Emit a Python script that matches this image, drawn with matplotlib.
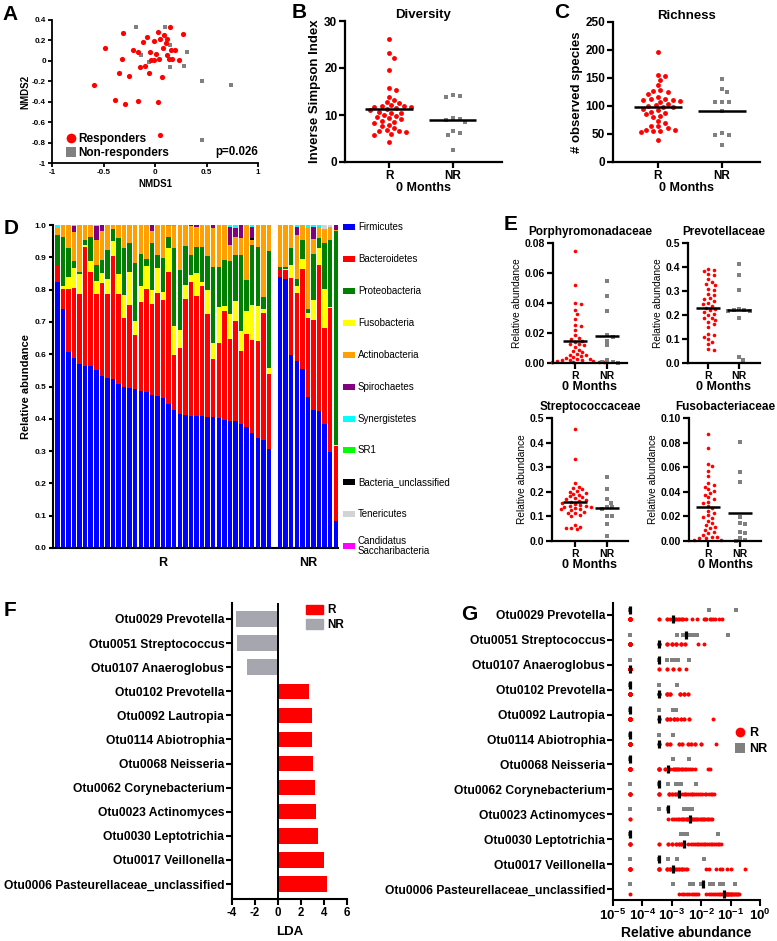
import numpy as np
import matplotlib
matplotlib.use("Agg")
import matplotlib.pyplot as plt
from matplotlib.lines import Line2D
from matplotlib.patches import Patch, Rectangle

plt.rcParams['font.family'] = ['Liberation Sans', 'DejaVu Sans']
plt.rcParams['font.weight'] = 'bold'
plt.rcParams['axes.labelweight'] = 'bold'
plt.rcParams['axes.titleweight'] = 'bold'
plt.rcParams['mathtext.fontset'] = 'custom'
plt.rcParams['mathtext.rm'] = 'Liberation Sans:bold'
plt.rcParams['mathtext.bf'] = 'Liberation Sans:bold'
plt.rcParams['mathtext.it'] = 'Liberation Sans:bold'
plt.rcParams['axes.unicode_minus'] = False

RED = '#FF0000'
GREY = '#808080'
LGREY = '#A6A6AE'

# ---------------- DATA ----------------
# A: NMDS
nmds_R_x = [0.145, -0.306, 0.268, 0.025, -0.076, 0.088, 0.05, 0.12, -0.006, -0.117, 0.104, -0.486, -0.218,
            -0.164, -0.047, 0.073, 0.151, 0.199, 0.009, 0.12, -0.322, -0.013, 0.041, 0.167, 0.23, -0.101,
            -0.148, -0.353, -0.054, -0.252, 0.066, -0.59, -0.385, -0.29, -0.164, 0.025, 0.047, -0.038, 0.136]
nmds_R_y = [0.334, 0.269, 0.259, 0.279, 0.236, 0.252, 0.21, 0.21, 0.197, 0.187, 0.17, 0.128, 0.111,
            0.082, 0.089, 0.128, 0.111, 0.105, 0.072, 0.056, 0.023, 0.013, 0.023, 0.023, 0.007, -0.046,
            -0.059, -0.118, -0.118, -0.144, -0.157, -0.236, -0.38, -0.423, -0.397, -0.4, -0.725, 0.007, 0.023]
nmds_NR_x = [-0.189, 0.095, 0.142, -0.132, -0.063, 0.306, 0.142, 0.281, 0.461, 0.738, 0.461]
nmds_NR_y = [0.334, 0.334, 0.154, 0.062, -0.01, 0.082, -0.059, -0.049, -0.197, -0.233, -0.774]

# B: inverse Simpson
div_R = [26.1, 23.1, 22.2, 19.5, 15.7, 15.3, 13.9, 13.2, 12.8, 12.5, 12.1, 11.9, 11.8, 11.6, 11.4, 11.2, 11.1,
         10.7, 10.5, 10.4, 10.0, 9.8, 9.5, 9.3, 9.1, 8.8, 8.6, 8.3, 7.9, 7.6, 7.2, 6.8, 6.6, 6.5, 6.3, 6.0,
         5.8, 4.2, 11.9]
div_NR = [14.3, 14.0, 13.9, 9.3, 9.2, 9.0, 8.6, 6.5, 6.1, 5.8, 2.6]

# C: observed species
rich_R = [197, 155, 153, 146, 137, 128, 127, 125, 121, 116, 113, 112, 111, 110, 109, 107, 104, 101, 100, 99,
          98, 95, 92, 90, 88, 85, 83, 80, 74, 64, 61, 58, 57, 55, 55, 64, 70, 53, 40]
rich_NR = [149, 131, 125, 107, 107, 107, 91, 51, 48, 49, 30]

# D: phylum relative abundance per sample (39 R + 11 NR)
phyla = ['Firmicutes', 'Bacteroidetes', 'Proteobacteria', 'Fusobacteria', 'Actinobacteria', 'Spirochaetes',
         'Synergistetes', 'SR1', 'Bacteria_unclassified', 'Tenericutes', 'Candidatus\nSaccharibacteria']
phyla_colors = ['#0000FF', '#FF0000', '#007F00', '#FFFF00', '#FFA000', '#800080', '#00FFFF', '#00FF00',
                '#000000', '#D3D3D3', '#FF00FF']
firm_R = [.823, .740, .607, .587, .569, .565, .562, .551, .532, .525, .523, .509, .500, .494, .493, .485, .484,
          .475, .470, .463, .445, .427, .415, .412, .410, .409, .408, .406, .405, .404, .395, .393, .392, .383,
          .375, .356, .342, .335, .307]
bact_R = [.052, .062, .195, .219, .217, .368, .294, .235, .288, .261, .381, .277, .212, .259, .167, .276, .318,
          .280, .320, .306, .409, .170, .205, .359, .415, .370, .402, .319, .179, .230, .340, .254, .310, .226,
          .286, .289, .300, .393, .231]
fuso_R = [.000, .008, .038, .060, .062, .005, .031, .041, .031, .046, .045, .062, .070, .103, .042, .051, .072,
          .045, .076, .025, .074, .090, .056, .044, .021, .072, .015, .075, .051, .112, .013, .078, .062, .062,
          .072, .108, .108, .013, .020]
prot_R = [.093, .154, .090, .023, .008, .016, .077, .050, .041, .091, .039, .113, .146, .087, .180, .098, .020,
          .143, .041, .103, .036, .241, .185, .120, .061, .082, .108, .105, .236, .125, .143, .165, .143, .236,
          .097, .185, .183, .035, .360]
acti_R = [.024, .036, .070, .088, .144, .046, .036, .077, .090, .077, .012, .039, .072, .057, .118, .090, .106,
          .037, .091, .103, .032, .068, .139, .065, .089, .062, .067, .093, .119, .129, .109, .048, .057, .052,
          .170, .016, .067, .224, .082]
spiro_R = [0, 0, 0, .020, 0, 0, 0, .042, .018, 0, 0, 0, 0, 0, 0, 0, 0, .020, 0, 0, 0, 0, 0, 0, .004, .005, 0,
           0, .010, 0, 0, .057, .026, .041, 0, .036, 0, 0, 0]
syn_R = [.008, 0, 0, .003, 0, 0, 0, .004, 0, 0, 0, 0, 0, 0, 0, 0, 0, 0, .002, 0, 0, 0, 0, 0, 0, 0, 0, .002, 0,
         0, 0, .005, .010, 0, 0, .005, 0, 0, 0]
sr1_R = [0] * 20 + [.004, .004] + [0] * 17
bunc_R = [0] * 35 + [.005] + [0] * 3
ten_R = [0] * 39
cand_R = [0] * 39

firm_NR = [.839, .832, .596, .578, .555, .467, .426, .423, .385, .297, .083]
bact_NR = [.026, .028, .240, .212, .310, .244, .279, .452, .296, .446, .233]
fuso_NR = [0, .003, .039, .021, .031, .016, .062, .054, .122, .003, .004]
prot_NR = [.005, .007, .054, .023, .057, .013, .144, .031, .142, .209, .660]
acti_NR = [.130, .130, .071, .136, .047, .250, .047, .034, .044, .040, .006]
spiro_NR = [0, 0, 0, .024, 0, 0, .036, 0, 0, 0, .014]
syn_NR = [0, 0, 0, .006, 0, .010, .006, .006, 0, 0, 0]
sr1_NR = [0] * 11
bunc_NR = [0] * 11
ten_NR = [0, 0, 0, 0, 0, 0, 0, 0, .011, .005, 0]
cand_NR = [0] * 11

# E: families
porph_R = [.0744, .0522, .0402, .0396, .0356, .0329, .0296, .0251, .0244, .0218, .0184, .0162, .0140, .0118,
           .0107, .0089, .0080, .0073, .0062, .0056, .0051, .0044, .0040, .0036, .0029, .0024, .0022, .0018,
           .0018, .0013, .0013, .0009, .0009, .0007, .0007, .0125, .0130, .0150, .0170]
porph_NR = [.0547, .0447, .0347, .0184, .0173, .0147, .0118, .0018, .0007, .0007, .0002]
prev_R = [.393, .389, .383, .372, .365, .351, .3375, .330, .324, .310, .303, .289, .282, .272, .265, .257, .250,
          .244, .236, .230, .226, .219, .2125, .206, .199, .189, .180, .171, .187, .163, .149, .122, .115, .108,
          .099, .0875, .078, .060, .053]
prev_NR = [.414, .365, .303, .226, .222, .219, .217, .217, .1875, .025, .014]
strep_R = [.457, .333, .235, .221, .215, .210, .205, .201, .197, .192, .1875, .183, .178, .174, .170, .164, .160,
           .156, .151, .147, .143, .137, .133, .129, .124, .118, .113, .106, .139, .142, .166, .129, .112, .065,
           .058, .052, .052, .048, .102]
strep_NR = [.262, .211, .170, .156, .137, .137, .129, .102, .102, .069, .020]
fusof_R = [.0872, .0753, .0625, .0606, .0573, .0530, .0470, .0457, .0443, .0421, .0410, .0389, .0375, .0356,
           .0340, .0321, .0307, .0285, .0266, .0247, .0231, .0212, .0198, .0185, .0166, .0144, .0130, .0117,
           .0103, .0090, .0076, .0063, .0049, .0035, .0022, .0008, .0008, .0023, .0033]
fusof_NR = [.0802, .0565, .0476, .0198, .0144, .0139, .0076, .0068, .0022, .0008, .0003]

# F: LDA
otus = ['Otu0029 Prevotella', 'Otu0051 Streptococcus', 'Otu0107 Anaeroglobus', 'Otu0102 Prevotella',
        'Otu0092 Lautropia', 'Otu0114 Abiotrophia', 'Otu0068 Neisseria', 'Otu0062 Corynebacterium',
        'Otu0023 Actinomyces', 'Otu0030 Leptotrichia', 'Otu0017 Veillonella',
        'Otu0006 Pasteurellaceae_unclassified']
lda = [-3.67, -3.59, -2.71, 2.68, 2.97, 2.97, 3.03, 3.18, 3.29, 3.50, 3.99, 4.29]

# G: OTU relative abundance per patient
g_R = [
    [0] * 14 + [3.8e-4, 3.8e-4, 7e-4, 7e-4, 9e-4, 1.1e-3, 1.3e-3, 1.4e-3, 1.6e-3, 1.8e-3, 2e-3, 2.2e-3, 2.5e-3,
                3e-3, 5e-3, 7e-3, .012, .013, .015, .02, .022, .025, .03, .04, .05],
    [0] * 19 + [3.8e-4] * 4 + [7e-4] * 3 + [1e-3] * 3 + [1.4e-3] * 3 + [2e-3] * 3 + [2.8e-3] * 2 + [8e-3, .012],
    [0] * 30 + [3.8e-4, 3.8e-4, 6.7e-4, 6.7e-4, 1.1e-3, 1.1e-3, 1.8e-3, 1.8e-3, 3.1e-3],
    [0] * 19 + [3.8e-4] * 5 + [7e-4] * 4 + [9e-4] * 3 + [1.9e-3] * 3 + [2.6e-3] * 3 + [3.5e-3] * 2,
    [0] * 19 + [3.8e-4] * 3 + [7e-4] * 3 + [9e-4] * 2 + [1.2e-3] * 3 + [1.5e-3] * 2 + [2e-3] * 2 + [2.7e-3] * 2
    + [3.7e-3] * 2 + [.025],
    [0] * 19 + [3.8e-4] * 3 + [7e-4] * 2 + [9e-4] * 2 + [1.8e-3] * 2 + [2.3e-3] * 2 + [3.5e-3] * 2
    + [4.5e-3] * 2 + [6e-3] * 2 + [1e-2] * 2 + [.033],
    [0] * 12 + [3.8e-4] * 5 + [6e-4] * 2 + [7.7e-4, 9e-4, 1.1e-3, 1.2e-3, 1.3e-3, 1.4e-3, 1.5e-3, 1.6e-3, 1.8e-3,
                                          2.1e-3, 2.3e-3, 2.5e-3, 2.8e-3, 3e-3, 3.5e-3, 4.2e-3, 5e-3, 6e-3,
                                          .017, .02],
    [0] * 6 + [3.8e-4] * 4 + [8e-4] * 3 + [1e-3] * 2 + [1.3e-3] * 2 + [1.5e-3] * 2
    + [1.8e-3, 2.2e-3, 2.6e-3, 2.9e-3, 3e-3, 3.5e-3, 4e-3, 4.8e-3, 5e-3, 5.5e-3, 6.5e-3, 7.5e-3, 9e-3, .011,
       .013, .015, .018, .021, .024, .027],
    [0] * 2 + [7.7e-4, 1e-3, 1.2e-3, 1.4e-3, 1.6e-3, 1.8e-3, 2e-3, 2.2e-3, 2.5e-3, 2.7e-3, 3e-3, 3.2e-3, 3.4e-3,
               3.6e-3, 3.8e-3, 4e-3, 4.2e-3, 4.3e-3, 4.6e-3, 5e-3, 5.4e-3, 5.8e-3, 6.3e-3, 6.8e-3, 7.4e-3, 8e-3,
               8.8e-3, 9.6e-3, .0105, .0115, .0125, .014, .0155, .017, .019, .021, .023],
    [0] * 5 + [3.8e-4] * 2 + [7.3e-4] * 2 + [1e-3] * 2 + [1.4e-3] * 2 + [1.7e-3] * 2 + [2e-3] * 2 + [2.4e-3] * 2
    + [2.7e-3, 3.5e-3, 4.5e-3, 5.2e-3, 6e-3, 7e-3, 8e-3, 9e-3, .0105, .012, .014, .016, .018, .021, .024, .027,
       .031, .036, .041, .047],
    [0] * 8 + [3.8e-4] * 5 + [7e-4] * 3 + [9e-4] * 3
    + [1.1e-3, 1.3e-3, 1.4e-3, 1.5e-3, 1.7e-3, 1.8e-3, 2e-3, 2.2e-3, 2.3e-3, 2.6e-3, 3e-3, 3.4e-3, .015, .018,
       .032, .043, .05, .073, .1, .31],
    [0, 1.8e-3, 2.2e-3, 2.7e-3, 3.2e-3, 3.9e-3, 4.7e-3, 5.6e-3, 6.8e-3, 8e-3, .015, .018, .021, .025, .029, .034,
     .039, .044, .05, .059, .063, .065, .068, .073, .078, .08, .084, .09, .097, .1, .105, .113, .122, .132, .143,
     .155, .168, .182, .197],
]
g_NR = [
    [0] * 9 + [.018, .155],
    [0, 0, 1.5e-3, 1.5e-3, 2.5e-3, 3.1e-3, 4e-3, 5e-3, 6e-3, 7e-3, .083],
    [0] * 5 + [3.8e-4, 7e-4, 1e-3, 1.2e-3, 1.6e-3, 3.7e-3],
    [0] * 9 + [3.8e-4, 1.5e-3],
    [0] * 8 + [3.8e-4, 1.1e-3, 1.4e-3],
    [0] * 9 + [3.8e-4, 1.1e-3],
    [0] * 9 + [1.1e-3, 3.7e-3],
    [0] * 3 + [3.8e-4] * 3 + [7.3e-4, 1.4e-3, 1.7e-3, 2e-3, 6.5e-3],
    [0] * 3 + [3.8e-4] * 2 + [7.7e-4, 7.7e-4, 2.7e-3, 3.2e-3, 4e-3, 5e-3],
    [0] * 7 + [2e-3, 2.6e-3, 3.4e-3, .038],
    [0] * 4 + [3.8e-4] * 3 + [7.3e-4, 7.3e-4, 1.5e-3, .012],
    [0, 1.1e-3, 4.1e-3, 5.2e-3, .01, .0117, .02, .025, .043, .055, .14],
]

# ---------------- FIGURE ----------------
W, H = 777, 941
fig = plt.figure(figsize=(W / 100, H / 100), dpi=100)


def axes_px(x0, y0, x1, y1):
    return fig.add_axes([x0 / W, 1 - y1 / H, (x1 - x0) / W, (y1 - y0) / H])


def style(ax, lw=1.5, tl=4):
    for s in ['top', 'right']:
        ax.spines[s].set_visible(False)
    for s in ['left', 'bottom']:
        ax.spines[s].set_linewidth(lw)
    ax.tick_params(width=lw, length=tl, direction='out', color='black', pad=1.5)


def swarm_x(ax, xc, vals, diam_px, gap=1.15):
    vals = np.asarray(vals, float)
    disp = ax.transData.transform(np.column_stack([np.full(len(vals), xc), vals]))
    x0 = disp[0, 0]
    ys = disp[:, 1]
    order = np.argsort(-vals)
    px, py = [], []
    out = np.empty(len(vals))
    step = diam_px * 0.5
    cands = [0.0]
    for k in range(1, 80):
        cands += [k * step, -k * step]
    for i in order:
        for c in cands:
            ok = True
            for a, b in zip(px, py):
                if (a - (x0 + c)) ** 2 + (b - ys[i]) ** 2 < (diam_px * gap) ** 2:
                    ok = False
                    break
            if ok:
                break
        px.append(x0 + c)
        py.append(ys[i])
        out[i] = x0 + c
    return ax.transData.inverted().transform(np.column_stack([out, ys]))[:, 0]


def dotplot(ax, rv, nrv, xlim, ylim, yticks, ylabels, ms_pt, hw, fs, title=None, tfs=9.5, ylab=None,
            yfs=9.5, ylw='bold', xl_fs=9, tpad=2):
    ax.set_xlim(*xlim)
    ax.set_ylim(*ylim)
    style(ax, lw=1.6)
    diam = ms_pt * 100 / 72
    xr = swarm_x(ax, 0, rv, diam)
    xn = swarm_x(ax, 1, nrv, diam)
    ax.scatter(xr, rv, s=ms_pt ** 2, color=RED, marker='o', linewidths=0, clip_on=False, zorder=2)
    ax.scatter(xn, nrv, s=(ms_pt * 0.9) ** 2, color=GREY, marker='s', linewidths=0, clip_on=False, zorder=2)
    ax.plot([-hw, hw], [np.mean(rv)] * 2, color='black', lw=1.8, zorder=3, solid_capstyle='butt')
    ax.plot([1 - hw, 1 + hw], [np.mean(nrv)] * 2, color='black', lw=1.8, zorder=3, solid_capstyle='butt')
    ax.set_yticks(yticks)
    ax.set_yticklabels(ylabels, fontsize=fs)
    ax.set_xticks([0, 1])
    ax.set_xticklabels(['R', 'NR'], fontsize=fs)
    ax.set_xlabel('0 Months', fontsize=xl_fs, labelpad=0)
    if title:
        ax.set_title(title, fontsize=tfs, pad=tpad)
    if ylab:
        ax.set_ylabel(ylab, fontsize=yfs, fontweight=ylw, labelpad=2)


# ---- A ----
axA = axes_px(52, 20, 258, 163)
axA.set_xlim(-1, 1)
axA.set_ylim(-1, 0.4)
style(axA, lw=1.3, tl=3)
axA.scatter(nmds_R_x, nmds_R_y, s=14, color=RED, linewidths=0, zorder=3)
axA.scatter(nmds_NR_x, nmds_NR_y, s=12, color=GREY, marker='s', linewidths=0, zorder=2)
axA.set_xticks([-1, -0.5, 0, 0.5, 1])
axA.set_xticklabels(['-1', '-0.5', '0', '0.5', '1'], fontsize=5.8)
yt = [-1, -0.8, -0.6, -0.4, -0.2, 0, 0.2, 0.4]
axA.set_yticks(yt)
axA.set_yticklabels(['-1', '-0.8', '-0.6', '-0.4', '-0.2', '0', '0.2', '0.4'], fontsize=5.8)
axA.set_xlabel('NMDS1', fontsize=7, labelpad=2)
axA.set_ylabel('NMDS2', fontsize=7, labelpad=1)
hA = [Line2D([], [], marker='o', color=RED, ls='none', ms=7, mew=0),
      Line2D([], [], marker='s', color=GREY, ls='none', ms=6.5, mew=0)]
axA.legend(hA, ['Responders', 'Non-responders'], loc='lower left', bbox_to_anchor=(0.03, -0.02),
           frameon=False, fontsize=8.5, handletextpad=0.1, labelspacing=0.15, borderpad=0.1,
           handlelength=1.0)
axA.text(1.0, 0.035, 'p=0.026', transform=axA.transAxes, ha='right', va='bottom', fontsize=8.3)

# ---- B ----
axB = axes_px(345, 21, 502, 162)
dotplot(axB, div_R, div_NR, (-0.69, 1.77), (0, 30), [0, 10, 20, 30], ['0', '10', '20', '30'], 3.5, 0.37,
        8.5, title='Diversity', tfs=9.5, ylab='Inverse Simpson Index', yfs=9.5, tpad=1.5)

# ---- C ----
axC = axes_px(613, 22, 760, 162)
dotplot(axC, rich_R, rich_NR, (-0.70, 1.59), (0, 250), [0, 50, 100, 150, 200, 250],
        ['0', '50', '100', '150', '200', '250'], 3.5, 0.37, 8.5, title='Richness', tfs=9.5,
        ylab='# observed species', yfs=9.5, tpad=2)

# ---- D ----
axD = axes_px(53, 225, 338, 548)
xpos = np.concatenate([np.arange(39), np.arange(40, 51)])
stack = [
    (np.array(firm_R + firm_NR), 0), (np.array(bact_R + bact_NR), 1), (np.array(fuso_R + fuso_NR), 3),
    (np.array(prot_R + prot_NR), 2), (np.array(acti_R + acti_NR), 4), (np.array(bunc_R + bunc_NR), 8),
    (np.array(spiro_R + spiro_NR), 5), (np.array(syn_R + syn_NR), 6), (np.array(sr1_R + sr1_NR), 7),
    (np.array(ten_R + ten_NR), 9), (np.array(cand_R + cand_NR), 10),
]
bottom = np.zeros(len(xpos))
for vals, ci in stack:
    axD.bar(xpos, vals, bottom=bottom, width=0.8, color=phyla_colors[ci], linewidth=0)
    bottom += vals
axD.set_xlim(-0.77, 50.4)
axD.set_ylim(0, 1.0)
style(axD, lw=1.5, tl=3)
axD.set_xticks([])
axD.set_yticks(np.arange(0, 1.01, 0.1))
axD.set_yticklabels(['%.1f' % v for v in np.arange(0, 1.01, 0.1)], fontsize=6)
axD.set_ylabel('Relative abundance', fontsize=8, labelpad=3)
axD.text(19, -0.047, 'R', transform=axD.get_xaxis_transform(), ha='center', va='center', fontsize=9)
axD.text(45, -0.047, 'NR', transform=axD.get_xaxis_transform(), ha='center', va='center', fontsize=9)
# legend
leg_y = [227, 259, 291, 323, 355, 387, 419, 450, 482, 514, 546]
for name, col, yy in zip(phyla, phyla_colors, leg_y):
    fig.patches.append(Rectangle((343 / W, 1 - (yy + 3) / H), 12 / W, 6 / H, transform=fig.transFigure,
                                 facecolor=col, edgecolor='none'))
    fig.text(358 / W, 1 - yy / H, name, fontsize=7, fontweight='normal', ha='left', va='center',
             linespacing=1.0)

# ---- E ----
axE1 = axes_px(553, 243, 627, 363)
dotplot(axE1, porph_R, porph_NR, (-0.69, 1.62), (0, 0.08), [0, 0.02, 0.04, 0.06, 0.08],
        ['0.00', '0.02', '0.04', '0.06', '0.08'], 2.6, 0.38, 7.5, title='Porphyromonadaceae', tfs=8.5,
        ylab='Relative abundance', yfs=7.3, ylw='normal', xl_fs=9, tpad=6)
axE2 = axes_px(688, 243, 760, 363)
dotplot(axE2, prev_R, prev_NR, (-0.65, 1.68), (0, 0.5), [0, 0.1, 0.2, 0.3, 0.4, 0.5],
        ['0.0', '0.1', '0.2', '0.3', '0.4', '0.5'], 2.6, 0.38, 7.5, title='Prevotellaceae', tfs=8.5,
        ylab='Relative abundance', yfs=7.3, ylw='normal', xl_fs=9, tpad=6)
axE3 = axes_px(552, 418, 628, 541)
dotplot(axE3, strep_R, strep_NR, (-0.72, 1.66), (0, 0.5), [0, 0.1, 0.2, 0.3, 0.4, 0.5],
        ['0.0', '0.1', '0.2', '0.3', '0.4', '0.5'], 2.6, 0.38, 7.5, title='Streptococcaceae', tfs=8.5,
        ylab='Relative abundance', yfs=7.3, ylw='normal', xl_fs=9, tpad=5.5)
axE4 = axes_px(689, 418, 761, 541)
dotplot(axE4, fusof_R, fusof_NR, (-0.6, 1.66), (0, 0.10), [0, 0.02, 0.04, 0.06, 0.08, 0.10],
        ['0.00', '0.02', '0.04', '0.06', '0.08', '0.10'], 2.6, 0.38, 7.5, title='Fusobacteriaceae', tfs=8.5,
        ylab='Relative abundance', yfs=7.3, ylw='normal', xl_fs=9, tpad=5.5)

# ---- F ----
axF = axes_px(232, 603, 347, 899)
yidx = np.arange(len(otus))
fcols = [RED if v > 0 else LGREY for v in lda]
axF.barh(yidx, lda, height=0.64, color=fcols, linewidth=0)
axF.set_xlim(-4, 6)
axF.set_ylim(11.62, -0.66)
style(axF, lw=1.5, tl=4)
axF.axvline(0, color='black', lw=1.4)
axF.set_yticks(yidx)
axF.set_yticklabels(otus, fontsize=8.7)
axF.set_xticks([-4, -2, 0, 2, 4, 6])
axF.set_xticklabels(['-4', '-2', '0', '2', '4', '6'], fontsize=8.3)
axF.set_xlabel('LDA', fontsize=9.5, labelpad=5)
axF.legend([Patch(color=RED), Patch(color=LGREY)], ['R', 'NR'], loc='upper left',
           bbox_to_anchor=(0.58, 1.02), frameon=False, fontsize=8.5, handlelength=1.5, handleheight=0.8,
           handletextpad=0.3, labelspacing=0.25, borderpad=0.1)

# ---- G ----
ZERO_POS = 3.7e-5
axG = axes_px(613, 603, 760, 900)
axG.set_xscale('log')
axG.set_xlim(1e-5, 1)
axG.set_ylim(11.44, -0.48)
style(axG, lw=1.5, tl=4)
for i in range(len(otus)):
    rv = np.array(g_R[i], float)
    nv = np.array(g_NR[i], float)
    rp = np.where(rv == 0, ZERO_POS, rv)
    npv = np.where(nv == 0, ZERO_POS, nv)
    axG.scatter(npv, np.full(len(npv), i - 0.2), s=9, marker='s', color=GREY, linewidths=0, zorder=2)
    axG.scatter(rp, np.full(len(rp), i + 0.18), s=8, marker='o', color=RED, linewidths=0, zorder=2)
    for vals, yy in ((rv, i + 0.18), (nv, i - 0.2)):
        med = np.median(vals)
        med = ZERO_POS if med == 0 else med
        axG.plot([med], [yy], marker='|', ms=6, mew=2.3, color='black', zorder=4)
axG.set_yticks(yidx)
axG.set_yticklabels(otus, fontsize=8.7)
axG.set_xticks([1e-5, 1e-4, 1e-3, 1e-2, 1e-1, 1])
axG.set_xticklabels([r'$\mathbf{10^{-5}}$', r'$\mathbf{10^{-4}}$', r'$\mathbf{10^{-3}}$', r'$\mathbf{10^{-2}}$',
                     r'$\mathbf{10^{-1}}$', r'$\mathbf{10^{0}}$'], fontsize=9.5)
axG.minorticks_off()
axG.set_xlabel('Relative abundance', fontsize=10, labelpad=2)
hG = [Line2D([], [], marker='o', color=RED, ls='none', ms=7, mew=0),
      Line2D([], [], marker='s', color=GREY, ls='none', ms=6.5, mew=0)]
axG.legend(hG, ['R', 'NR'], loc='center left', bbox_to_anchor=(0.77, 0.535), frameon=False, fontsize=9,
           handletextpad=0.2, labelspacing=0.3, handlelength=1.0, borderpad=0.1)

# ---- panel letters ----
for lab, x, y in [('A', 10, 14), ('B', 299, 13), ('C', 562, 13), ('D', 11, 228), ('E', 511, 224),
                  ('F', 10, 611), ('G', 469, 614)]:
    fig.text(x / W, 1 - y / H, lab, fontsize=15, fontweight='bold', ha='center', va='center')

fig.savefig('out.png', dpi=100)
